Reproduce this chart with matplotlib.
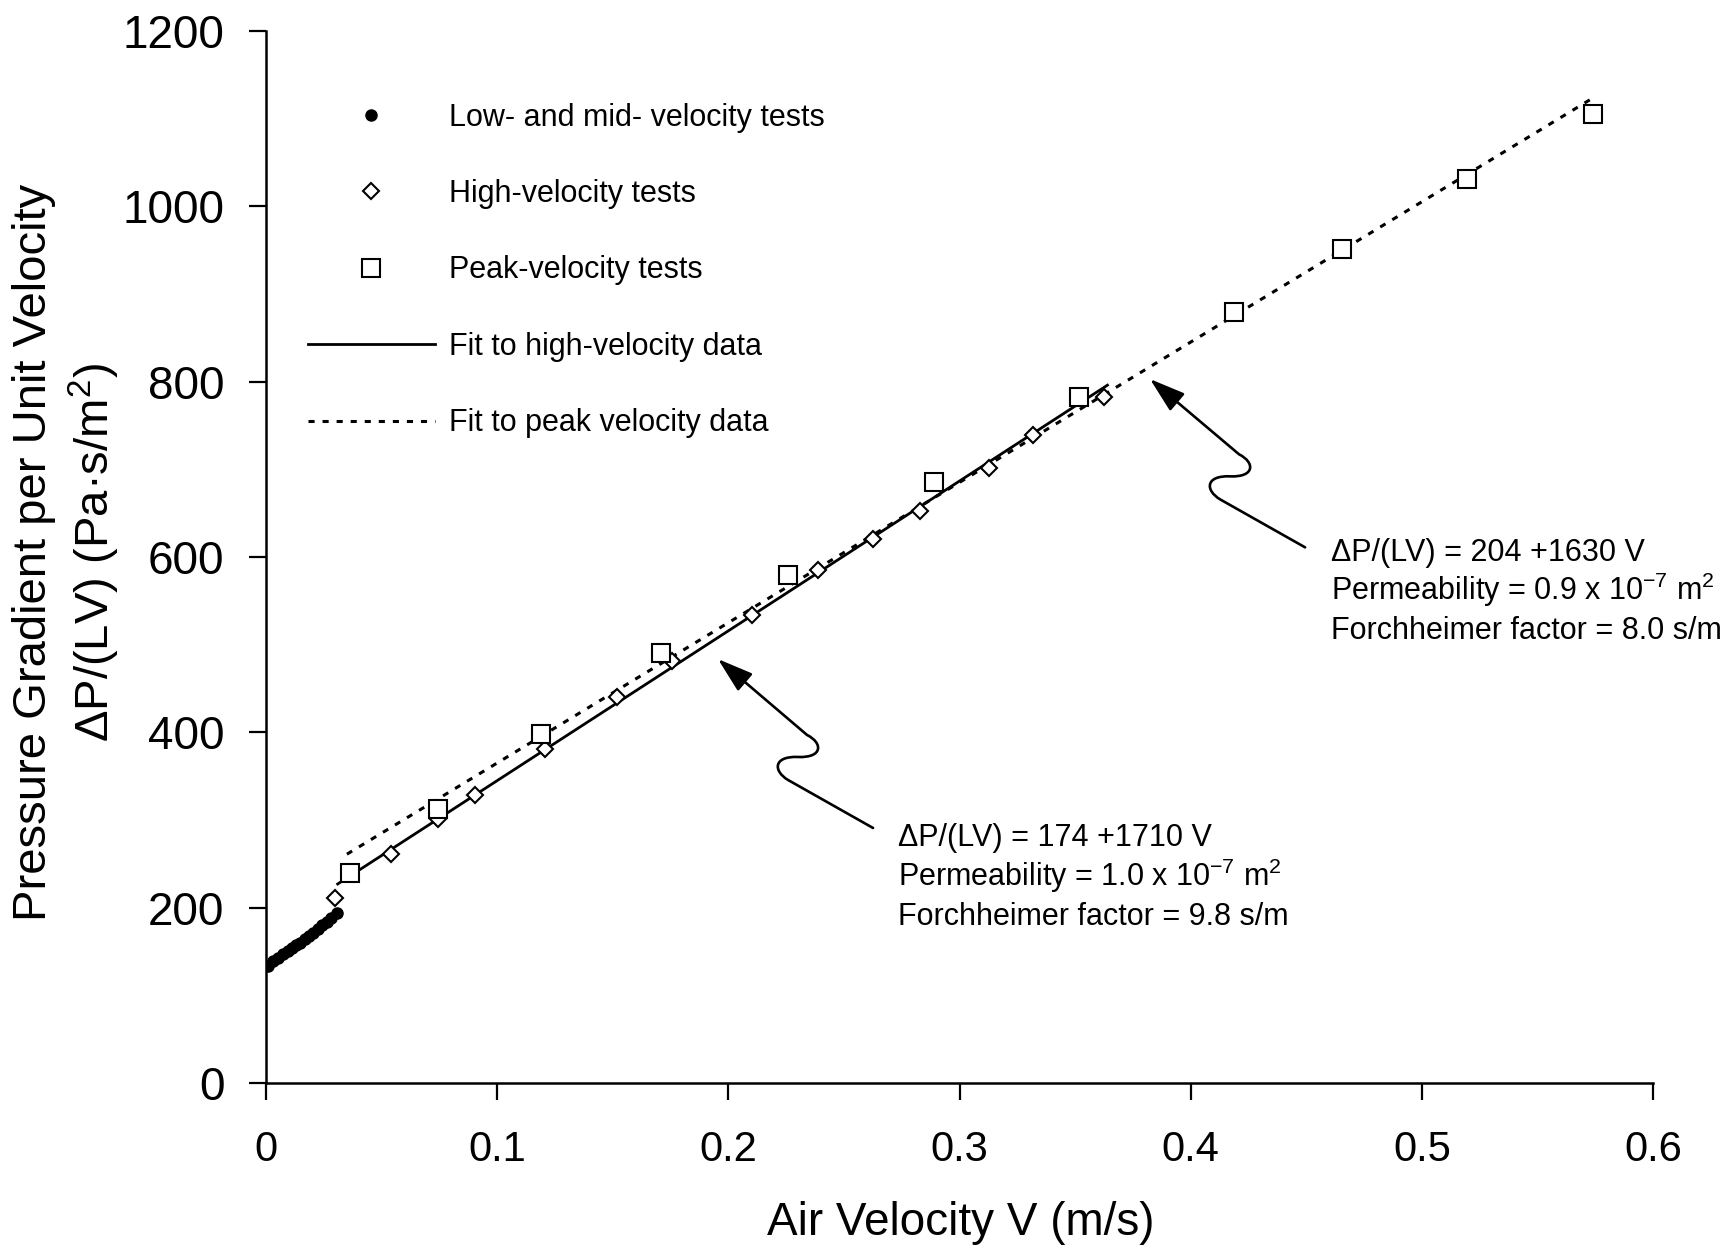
import numpy as np
import matplotlib
matplotlib.use('Agg')
import matplotlib.pyplot as plt
from matplotlib.path import Path
from matplotlib.patches import FancyArrowPatch
from matplotlib.transforms import IdentityTransform

plt.rcParams['font.family'] = ['Liberation Sans', 'DejaVu Sans']
plt.rcParams['mathtext.fontset'] = 'custom'
plt.rcParams['mathtext.rm'] = 'Liberation Sans'
plt.rcParams['mathtext.it'] = 'Liberation Sans:italic'
plt.rcParams['mathtext.bf'] = 'Liberation Sans:bold'

# low- and mid-velocity tests (filled dots)
low_v = [0.0008, 0.0030, 0.0052, 0.0074, 0.0095, 0.0114, 0.0131, 0.0148,
         0.0167, 0.0186, 0.0203, 0.0225, 0.0244, 0.0264, 0.0283, 0.0305]
low_p = [134, 139, 143, 147, 151, 154, 157, 160,
         164, 168, 171, 176, 180, 184, 188, 194]

# high-velocity tests (open diamonds)
high_v = [0.0297, 0.054, 0.0742, 0.0905, 0.1207, 0.1518, 0.1758, 0.2102,
          0.239, 0.2625, 0.283, 0.3127, 0.332, 0.3627]
high_p = [211, 261, 301, 328, 381, 440, 481, 534,
          585, 621, 652, 701, 739, 782]

# peak-velocity tests (open squares)
peak_v = [0.0364, 0.0742, 0.119, 0.171, 0.2256, 0.289, 0.3515,
          0.4186, 0.4655, 0.5196, 0.574]
peak_p = [239, 312, 398, 491, 580, 685, 783,
          879, 951, 1031, 1105]

# fit lines as drawn (end points)
fit_high_v = [0.031, 0.364]
fit_high_p = [227, 796]
fit_peak_v = [0.035, 0.573]
fit_peak_p = [261, 1122]

xticks = [0, 0.1, 0.2, 0.3, 0.4, 0.5, 0.6]
xtick_labels = ['0', '0.1', '0.2', '0.3', '0.4', '0.5', '0.6']
yticks = [0, 200, 400, 600, 800, 1000, 1200]

labels = ['Low- and mid- velocity tests', 'High-velocity tests', 'Peak-velocity tests',
          'Fit to high-velocity data', 'Fit to peak velocity data']

note_high = ['\u0394P/(LV) = 174 +1710 V',
             'Permeability = 1.0 x 10$^{-7}$ m$^2$',
             'Forchheimer factor = 9.8 s/m']
note_peak = ['\u0394P/(LV) = 204 +1630 V',
             'Permeability = 0.9 x 10$^{-7}$ m$^2$',
             'Forchheimer factor = 8.0 s/m']

fig = plt.figure(figsize=(17.36, 12.47), dpi=100)
ax = fig.add_axes([266 / 1736, 1 - 1083 / 1247, 1387 / 1736, 1052 / 1247])

h_low, = ax.plot(low_v, low_p, linestyle='none', marker='o', ms=8, color='black')
h_high, = ax.plot(high_v, high_p, linestyle='none', marker='D', ms=8.5, mfc='white',
                  mec='black', mew=1.5, zorder=4)
h_peak, = ax.plot(peak_v, peak_p, linestyle='none', marker='s', ms=12.5, mfc='white',
                  mec='black', mew=1.5, zorder=5)

h_fit1, = ax.plot(fit_high_v, fit_high_p, color='black', lw=2.0, zorder=3)
h_fit2, = ax.plot(fit_peak_v, fit_peak_p, color='black', lw=2.2,
                  linestyle=(0, (2.0, 2.6)), zorder=3)

ax.set_xlim(0, 0.6)
ax.set_ylim(0, 1200)
ax.set_xticks(xticks)
ax.set_xticklabels(xtick_labels)
ax.set_yticks(yticks)
for s in ['top', 'right']:
    ax.spines[s].set_visible(False)
for s in ['left', 'bottom']:
    ax.spines[s].set_linewidth(1.8)
ax.tick_params(axis='both', direction='out', length=12, width=1.6, color='black')
ax.tick_params(axis='x', labelsize=30, pad=22)
ax.tick_params(axis='y', labelsize=33, pad=18)

ax.set_xlabel('Air Velocity V (m/s)', fontsize=33)
ax.xaxis.set_label_coords(0.501, -0.112)
ax.set_ylabel('Pressure Gradient per Unit Velocity\n\u0394P/(LV) (Pa\u00b7s/m$^2$)',
              fontsize=34, linespacing=1.25)
ax.yaxis.set_label_coords(-0.104, 0.504)

ax.legend([h_low, h_high, h_peak, h_fit1, h_fit2], labels, loc='upper left',
          bbox_to_anchor=(0.0303, 0.932), frameon=False, fontsize=22, numpoints=1,
          handlelength=4.15, handletextpad=0.46, labelspacing=1.52,
          borderpad=0, borderaxespad=0)

# annotation text blocks
for i, line in enumerate(note_high):
    ax.text(0.2733, 270.7 - 45.5 * i, line, fontsize=22, va='baseline', ha='left')
for i, line in enumerate(note_peak):
    ax.text(0.4606, 595.2 - 44.2 * i, line, fontsize=22, va='baseline', ha='left')


def wavy_arrow(tail, head):
    # S-bend arrow, bend drawn as pixel offsets from the tail
    tx, ty = ax.transData.transform(tail)
    hx, hy = ax.transData.transform(head)
    offs = [(0, 0), (-85, 48), (-100, 57), (-100, 72), (-75, 71),
            (-50, 70), (-50, 85), (-66, 93)]
    verts = [(tx + dx, ty + dy) for dx, dy in offs] + [(hx, hy)]
    codes = [Path.MOVETO, Path.LINETO, Path.CURVE4, Path.CURVE4, Path.CURVE4,
             Path.CURVE4, Path.CURVE4, Path.CURVE4, Path.LINETO]
    arr = FancyArrowPatch(path=Path(verts, codes),
                          arrowstyle='-|>,head_length=1.1,head_width=0.35',
                          mutation_scale=20, lw=1.9, color='black',
                          transform=IdentityTransform())
    fig.add_artist(arr)


wavy_arrow((0.2626, 290.9), (0.1955, 483.6))
wavy_arrow((0.4495, 611.0), (0.3824, 803.0))

fig.savefig('out.png', dpi=100)
